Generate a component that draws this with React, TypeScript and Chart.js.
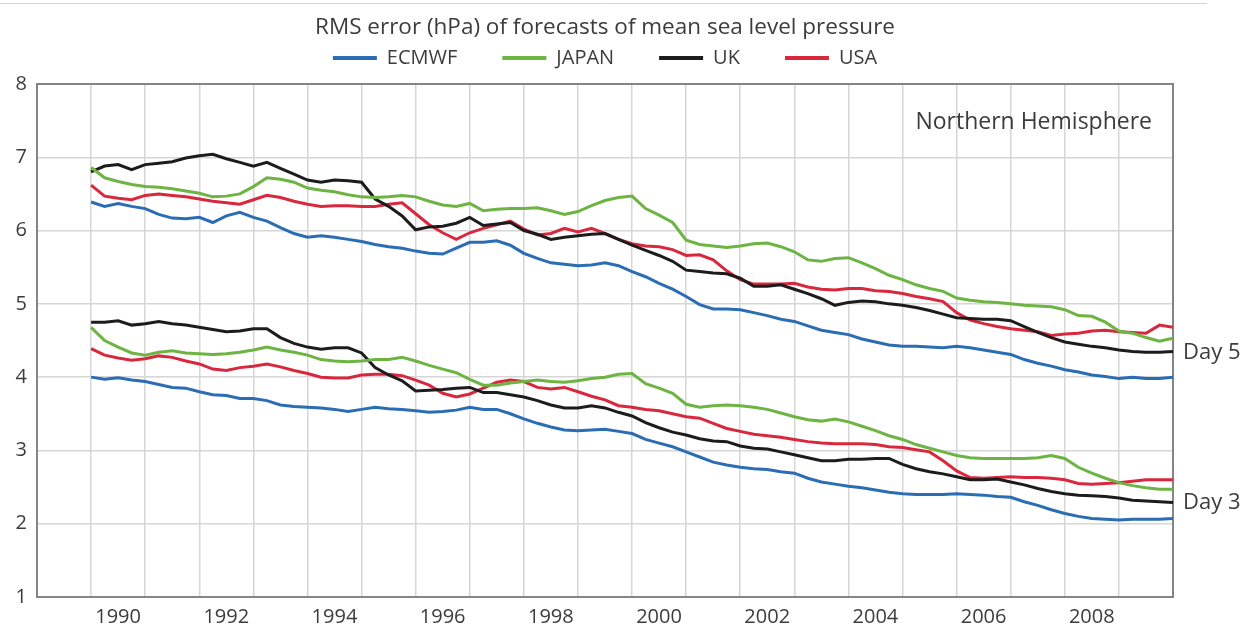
import { useEffect, useRef } from 'react';
import { Chart, registerables } from 'chart.js';

Chart.register(...registerables);

// ---------- data ----------
const years = [
  1990, 1990.25, 1990.5, 1990.75, 1991, 1991.25, 1991.5, 1991.75,
  1992, 1992.25, 1992.5, 1992.75, 1993, 1993.25, 1993.5, 1993.75,
  1994, 1994.25, 1994.5, 1994.75, 1995, 1995.25, 1995.5, 1995.75,
  1996, 1996.25, 1996.5, 1996.75, 1997, 1997.25, 1997.5, 1997.75,
  1998, 1998.25, 1998.5, 1998.75, 1999, 1999.25, 1999.5, 1999.75,
  2000, 2000.25, 2000.5, 2000.75, 2001, 2001.25, 2001.5, 2001.75,
  2002, 2002.25, 2002.5, 2002.75, 2003, 2003.25, 2003.5, 2003.75,
  2004, 2004.25, 2004.5, 2004.75, 2005, 2005.25, 2005.5, 2005.75,
  2006, 2006.25, 2006.5, 2006.75, 2007, 2007.25, 2007.5, 2007.75,
  2008, 2008.25, 2008.5, 2008.75, 2009, 2009.25, 2009.5, 2009.75,
  2010,
];

const ecmwfDay5 = [
  6.39, 6.33, 6.37, 6.33, 6.30, 6.22, 6.17, 6.16,
  6.18, 6.11, 6.20, 6.25, 6.18, 6.13, 6.04, 5.96,
  5.91, 5.93, 5.91, 5.88, 5.85, 5.81, 5.78, 5.76,
  5.72, 5.69, 5.68, 5.76, 5.84, 5.84, 5.86, 5.80,
  5.69, 5.62, 5.56, 5.54, 5.52, 5.53, 5.56, 5.52,
  5.44, 5.37, 5.28, 5.20, 5.10, 4.99, 4.93, 4.93,
  4.92, 4.88, 4.84, 4.79, 4.76, 4.70, 4.64, 4.61,
  4.58, 4.52, 4.48, 4.44, 4.42, 4.42, 4.41, 4.40,
  4.42, 4.40, 4.37, 4.34, 4.31, 4.24, 4.19, 4.15,
  4.10, 4.07, 4.03, 4.01, 3.98, 4.00, 3.98, 3.98,
  4.00,
];

const japanDay5 = [
  6.86, 6.72, 6.67, 6.63, 6.60, 6.59, 6.57, 6.54,
  6.51, 6.46, 6.47, 6.50, 6.60, 6.72, 6.70, 6.66,
  6.58, 6.55, 6.53, 6.49, 6.46, 6.45, 6.46, 6.48,
  6.46, 6.40, 6.35, 6.33, 6.37, 6.27, 6.29, 6.30,
  6.30, 6.31, 6.27, 6.22, 6.26, 6.34, 6.41, 6.45,
  6.47, 6.30, 6.21, 6.11, 5.87, 5.81, 5.79, 5.77,
  5.79, 5.82, 5.83, 5.78, 5.71, 5.60, 5.58, 5.62,
  5.63, 5.56, 5.48, 5.39, 5.33, 5.26, 5.21, 5.17,
  5.08, 5.05, 5.03, 5.02, 5.00, 4.98, 4.97, 4.96,
  4.92, 4.84, 4.83, 4.75, 4.63, 4.60, 4.54, 4.49,
  4.53,
];

const ukDay5 = [
  6.80, 6.88, 6.90, 6.83, 6.90, 6.92, 6.94, 6.99,
  7.02, 7.04, 6.98, 6.93, 6.88, 6.93, 6.85, 6.77,
  6.69, 6.66, 6.69, 6.68, 6.66, 6.43, 6.33, 6.20,
  6.01, 6.05, 6.06, 6.10, 6.18, 6.07, 6.09, 6.11,
  6.00, 5.95, 5.88, 5.91, 5.93, 5.95, 5.96, 5.88,
  5.80, 5.73, 5.66, 5.58, 5.46, 5.44, 5.42, 5.41,
  5.35, 5.24, 5.24, 5.26, 5.20, 5.14, 5.07, 4.98,
  5.02, 5.04, 5.03, 5.00, 4.98, 4.95, 4.91, 4.86,
  4.81, 4.80, 4.79, 4.79, 4.77, 4.69, 4.61, 4.54,
  4.48, 4.45, 4.42, 4.40, 4.37, 4.35, 4.34, 4.34,
  4.35,
];

const usaDay5 = [
  6.62, 6.47, 6.44, 6.42, 6.48, 6.50, 6.48, 6.46,
  6.43, 6.40, 6.38, 6.36, 6.42, 6.48, 6.45, 6.40,
  6.36, 6.33, 6.34, 6.34, 6.33, 6.33, 6.36, 6.38,
  6.23, 6.08, 5.97, 5.88, 5.97, 6.03, 6.08, 6.13,
  6.02, 5.94, 5.96, 6.03, 5.98, 6.03, 5.96, 5.88,
  5.82, 5.79, 5.78, 5.74, 5.66, 5.67, 5.60, 5.45,
  5.33, 5.27, 5.27, 5.27, 5.28, 5.23, 5.20, 5.19,
  5.21, 5.21, 5.18, 5.17, 5.14, 5.10, 5.07, 5.03,
  4.88, 4.78, 4.73, 4.69, 4.66, 4.64, 4.62, 4.57,
  4.59, 4.60, 4.63, 4.64, 4.62, 4.61, 4.60, 4.71,
  4.68,
];

const ecmwfDay3 = [
  4.00, 3.97, 3.99, 3.96, 3.94, 3.90, 3.86, 3.85,
  3.80, 3.76, 3.75, 3.71, 3.71, 3.68, 3.62, 3.60,
  3.59, 3.58, 3.56, 3.53, 3.56, 3.59, 3.57, 3.56,
  3.54, 3.52, 3.53, 3.55, 3.59, 3.56, 3.56, 3.50,
  3.43, 3.37, 3.32, 3.28, 3.27, 3.28, 3.29, 3.26,
  3.23, 3.15, 3.10, 3.05, 2.98, 2.91, 2.84, 2.80,
  2.77, 2.75, 2.74, 2.71, 2.69, 2.62, 2.57, 2.54,
  2.51, 2.49, 2.46, 2.43, 2.41, 2.40, 2.40, 2.40,
  2.41, 2.40, 2.39, 2.37, 2.36, 2.30, 2.25, 2.19,
  2.14, 2.10, 2.07, 2.06, 2.05, 2.06, 2.06, 2.06,
  2.07,
];

const japanDay3 = [
  4.68, 4.50, 4.41, 4.33, 4.30, 4.34, 4.36, 4.33,
  4.32, 4.31, 4.32, 4.34, 4.37, 4.41, 4.37, 4.34,
  4.30, 4.24, 4.22, 4.21, 4.22, 4.24, 4.24, 4.27,
  4.22, 4.16, 4.11, 4.06, 3.97, 3.89, 3.89, 3.92,
  3.94, 3.96, 3.94, 3.93, 3.95, 3.98, 4.00, 4.04,
  4.05, 3.91, 3.85, 3.78, 3.63, 3.59, 3.61, 3.62,
  3.61, 3.59, 3.56, 3.51, 3.46, 3.42, 3.40, 3.43,
  3.39, 3.33, 3.27, 3.20, 3.15, 3.08, 3.03, 2.98,
  2.93, 2.90, 2.89, 2.89, 2.89, 2.89, 2.90, 2.93,
  2.89, 2.77, 2.69, 2.62, 2.56, 2.52, 2.49, 2.47,
  2.47,
];

const ukDay3 = [
  4.75, 4.75, 4.77, 4.71, 4.73, 4.76, 4.73, 4.71,
  4.68, 4.65, 4.62, 4.63, 4.66, 4.66, 4.54, 4.46,
  4.41, 4.38, 4.40, 4.40, 4.33, 4.13, 4.03, 3.95,
  3.81, 3.82, 3.83, 3.85, 3.86, 3.79, 3.79, 3.76,
  3.73, 3.68, 3.62, 3.58, 3.58, 3.61, 3.58, 3.52,
  3.47, 3.38, 3.31, 3.25, 3.21, 3.16, 3.13, 3.12,
  3.06, 3.03, 3.02, 2.98, 2.94, 2.90, 2.86, 2.86,
  2.88, 2.88, 2.89, 2.89, 2.81, 2.75, 2.71, 2.68,
  2.64, 2.60, 2.60, 2.61, 2.57, 2.53, 2.48, 2.44,
  2.41, 2.39, 2.38, 2.37, 2.35, 2.32, 2.31, 2.30,
  2.29,
];

const usaDay3 = [
  4.39, 4.30, 4.26, 4.23, 4.25, 4.29, 4.27, 4.22,
  4.18, 4.11, 4.09, 4.13, 4.15, 4.18, 4.14, 4.09,
  4.05, 4.00, 3.99, 3.99, 4.03, 4.04, 4.04, 4.02,
  3.96, 3.89, 3.78, 3.73, 3.77, 3.85, 3.93, 3.96,
  3.94, 3.86, 3.84, 3.86, 3.80, 3.74, 3.69, 3.61,
  3.59, 3.56, 3.54, 3.50, 3.46, 3.44, 3.37, 3.30,
  3.26, 3.22, 3.20, 3.18, 3.15, 3.12, 3.10, 3.09,
  3.09, 3.09, 3.08, 3.05, 3.04, 3.01, 2.98, 2.86,
  2.72, 2.63, 2.62, 2.63, 2.64, 2.63, 2.63, 2.62,
  2.60, 2.55, 2.54, 2.55, 2.56, 2.58, 2.60, 2.60,
  2.60,
];

const centres = ['ECMWF', 'JAPAN', 'UK', 'USA'];
const day5Series = [ecmwfDay5, japanDay5, ukDay5, usaDay5];
const day3Series = [ecmwfDay3, japanDay3, ukDay3, usaDay3];

const gridYears = [
  1989, 1990, 1991, 1992, 1993, 1994, 1995, 1996, 1997, 1998, 1999,
  2000, 2001, 2002, 2003, 2004, 2005, 2006, 2007, 2008, 2009, 2010,
];
const labelYears = [1990, 1992, 1994, 1996, 1998, 2000, 2002, 2004, 2006, 2008];
const yTicks = [1, 2, 3, 4, 5, 6, 7, 8];

const titleText = 'RMS error (hPa) of forecasts of mean sea level pressure';
const regionText = 'Northern Hemisphere';
const dayLabels = ['Day 5', 'Day 3'];

// ---------- styles ----------
const colours = ['#2b6db5', '#6db443', '#1c1c1c', '#d9283d'];
const FONT = '"Open Sans", "Noto Sans", sans-serif';
const TEXT = '#3c3c3c';

const framePlugin = {
  id: 'frameAndNotes',
  beforeLayout(chart: any) {
    const lg = chart.legend;
    if (lg && !lg.__patched) {
      const orig = lg.fit.bind(lg);
      lg.fit = function () {
        orig();
        this.height += 6;
      };
      lg.__patched = true;
    }
  },
  beforeDatasetsDraw(chart: any) {
    const { ctx, chartArea } = chart;
    ctx.save();
    ctx.strokeStyle = '#858585';
    ctx.lineWidth = 2;
    ctx.strokeRect(chartArea.left, chartArea.top, chartArea.right - chartArea.left, chartArea.bottom - chartArea.top);
    ctx.restore();
  },
  afterDraw(chart: any) {
    const { ctx, chartArea, scales } = chart;
    ctx.save();
    // thin rule at the very top of the picture
    ctx.strokeStyle = '#d4d4d4';
    ctx.lineWidth = 1;
    ctx.beginPath();
    ctx.moveTo(0, 3.5);
    ctx.lineTo(1207, 3.5);
    ctx.stroke();

    ctx.fillStyle = TEXT;
    ctx.font = `23px ${FONT}`;
    ctx.textAlign = 'right';
    ctx.textBaseline = 'middle';
    ctx.fillText(regionText, chartArea.right - 21, chartArea.top + 38);

    ctx.textAlign = 'left';
    ctx.font = `22px ${FONT}`;
    const ukIdx = 2;
    const last = years.length - 1;
    const y5 = scales.y.getPixelForValue(day5Series[ukIdx][last]);
    const y3 = scales.y.getPixelForValue(day3Series[ukIdx][last]);
    ctx.fillText(dayLabels[0], chartArea.right + 10, y5 + 1);
    ctx.fillText(dayLabels[1], chartArea.right + 10, y3);
    ctx.restore();
  },
};

export default function App() {
  const ref = useRef<HTMLCanvasElement | null>(null);

  useEffect(() => {
    if (!ref.current) return;
    const datasets: any[] = [];
    centres.forEach((c, i) => {
      datasets.push({
        label: c,
        data: years.map((x, k) => ({ x, y: day5Series[i][k] })),
        borderColor: colours[i],
        backgroundColor: colours[i],
        borderWidth: 3,
        pointRadius: 0,
        tension: 0,
      });
    });
    centres.forEach((c, i) => {
      datasets.push({
        label: `${c} ${dayLabels[1]}`,
        data: years.map((x, k) => ({ x, y: day3Series[i][k] })),
        borderColor: colours[i],
        backgroundColor: colours[i],
        borderWidth: 3,
        pointRadius: 0,
        tension: 0,
      });
    });

    const chart = new Chart(ref.current, {
      type: 'line',
      data: { datasets },
      plugins: [framePlugin],
      options: {
        animation: false,
        responsive: true,
        maintainAspectRatio: false,
        layout: { padding: { left: 0, right: 75, top: 0, bottom: 0 } },
        plugins: {
          title: {
            display: true,
            text: titleText,
            fullSize: false,
            color: TEXT,
            font: { family: FONT, size: 22.5, weight: 'normal', lineHeight: 1.2 },
            padding: { top: 14, bottom: -38 },
          },
          legend: {
            display: true,
            fullSize: false,
            labels: {
              boxWidth: 44,
              boxHeight: 4,
              padding: 45,
              color: TEXT,
              font: { family: FONT, size: 20 },
              generateLabels: (ch: any) =>
                Chart.defaults.plugins.legend.labels
                  .generateLabels(ch)
                  .filter((l: any) => centres.includes(l.text))
                  .map((l: any) => ({ ...l, lineWidth: 0, fillStyle: l.strokeStyle })),
            },
          },
          tooltip: { enabled: false },
        },
        scales: {
          x: {
            type: 'linear',
            min: gridYears[0],
            max: gridYears[gridYears.length - 1],
            afterBuildTicks: (s: any) => {
              s.ticks = gridYears.map((v) => ({ value: v }));
            },
            afterFit: (s: any) => {
              s.height = 28;
            },
            ticks: {
              autoSkip: false,
              maxRotation: 0,
              labelOffset: 27,
              padding: 8,
              color: TEXT,
              font: { family: FONT, size: 20 },
              callback: (v: any) => (labelYears.includes(Number(v)) ? String(v) : ''),
            },
            grid: { color: '#d6d6d6', lineWidth: 1.5, drawTicks: false },
            border: { display: false },
          },
          y: {
            min: yTicks[0],
            max: yTicks[yTicks.length - 1],
            afterBuildTicks: (s: any) => {
              s.ticks = yTicks.map((v) => ({ value: v }));
            },
            afterFit: (s: any) => {
              s.width = 37;
            },
            ticks: {
              padding: 10,
              color: TEXT,
              font: { family: FONT, size: 20 },
              callback: (v: any) => String(v),
            },
            grid: { color: '#d6d6d6', lineWidth: 1.5, drawTicks: false },
            border: { display: false },
          },
        },
      } as any,
    });
    return () => chart.destroy();
  }, []);

  return (
    <div style={{ position: 'fixed', left: 0, top: 0, width: 1248, height: 625, background: '#fff' }}>
      <canvas ref={ref} />
    </div>
  );
}
